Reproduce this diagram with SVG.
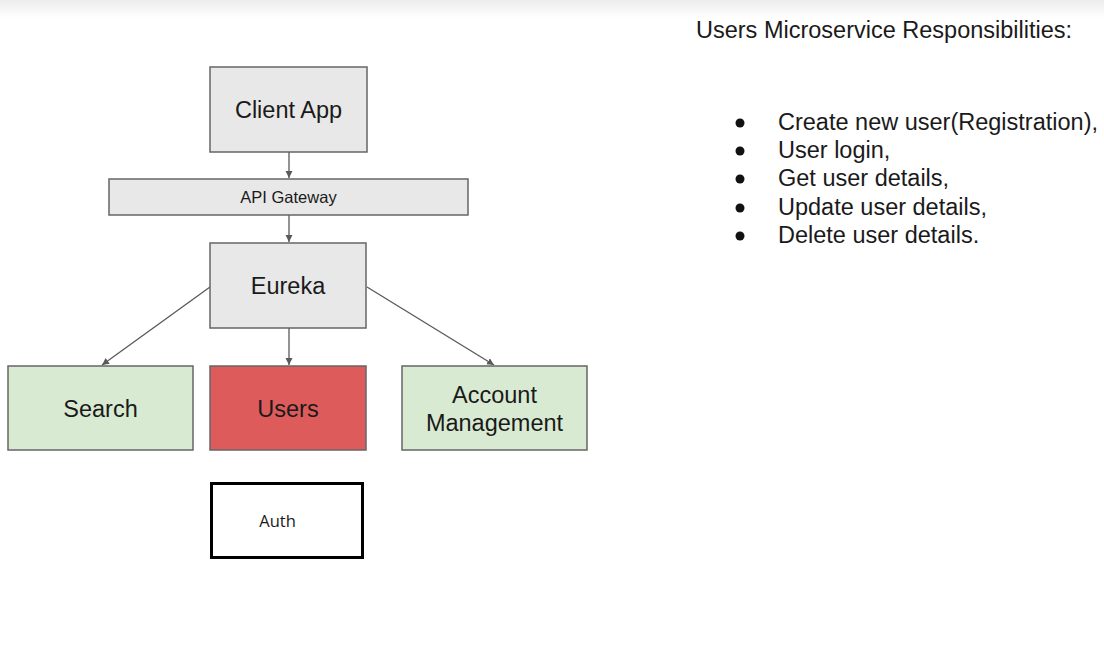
<svg xmlns="http://www.w3.org/2000/svg" width="1104" height="663" viewBox="0 0 1104 663">
<defs>
<linearGradient id="topfade" x1="0" y1="0" x2="0" y2="1">
<stop offset="0" stop-color="#ececec"/>
<stop offset="1" stop-color="#ffffff"/>
</linearGradient>
<marker id="arr" markerWidth="8" markerHeight="8" refX="7" refY="4" orient="auto" markerUnits="userSpaceOnUse">
<path d="M0,0.5 L7,4 L0,7.5 Z" fill="#595959"/>
</marker>
<style>
text{font-family:"Liberation Sans",Arial,sans-serif;fill:#1a1a1a}
.box{stroke:#666;stroke-width:1.5}
.gray{fill:#e8e8e8}
.green{fill:#d9ead3}
.red{fill:#de5b5b}
.conn{stroke:#595959;stroke-width:1.3;fill:none;marker-end:url(#arr)}
.lbl{font-size:23.5px;text-anchor:middle}
.li{font-size:23.5px}
</style>
</defs>
<rect width="1104" height="663" fill="#fff"/>
<rect width="1104" height="18" fill="url(#topfade)"/>
<g id="connectors">
<line class="conn" x1="289" y1="152" x2="289" y2="178"/>
<line class="conn" x1="289" y1="215" x2="289" y2="242"/>
<line class="conn" x1="210" y1="287" x2="102" y2="365"/>
<line class="conn" x1="289" y1="328" x2="289" y2="365"/>
<line class="conn" x1="367" y1="287" x2="494" y2="365"/>
</g>
<g id="client-app"><rect class="box gray" x="210" y="67" width="157" height="85"/><text class="lbl" x="288.5" y="118">Client App</text></g>
<g id="api-gateway"><rect class="box gray" x="109" y="179" width="359" height="36"/><text x="288.5" y="203" font-size="16.5" text-anchor="middle">API Gateway</text></g>
<g id="eureka"><rect class="box gray" x="210" y="243" width="156" height="85"/><text class="lbl" x="288" y="294">Eureka</text></g>
<g id="search"><rect class="box green" x="8" y="366" width="185" height="84"/><text class="lbl" x="100.5" y="417">Search</text></g>
<g id="users"><rect class="box red" x="210" y="366" width="156" height="84"/><text class="lbl" x="288" y="417">Users</text></g>
<g id="account-management"><rect class="box green" x="402" y="366" width="185" height="84"/><text class="lbl" x="494.5" y="403">Account</text><text class="lbl" x="494.5" y="431">Management</text></g>
<g id="auth"><rect x="211.5" y="483.5" width="151" height="74" fill="#fff" stroke="#000" stroke-width="3"/><text x="277.5" y="527" font-size="16.5" text-anchor="middle" style="font-family:'Open Sans','Noto Sans',sans-serif">Auth</text></g>
<g id="responsibilities">
<text x="696" y="38" font-size="23.5">Users Microservice Responsibilities:</text>
<g fill="#111">
<circle cx="740" cy="123" r="4.5"/>
<circle cx="740" cy="151" r="4.5"/>
<circle cx="740" cy="179" r="4.5"/>
<circle cx="740" cy="208" r="4.5"/>
<circle cx="740" cy="236" r="4.5"/>
</g>
<text class="li" x="778" y="130">Create new user(Registration),</text>
<text class="li" x="778" y="158">User login,</text>
<text class="li" x="778" y="186">Get user details,</text>
<text class="li" x="778" y="215">Update user details,</text>
<text class="li" x="778" y="243">Delete user details.</text>
</g>
</svg>
